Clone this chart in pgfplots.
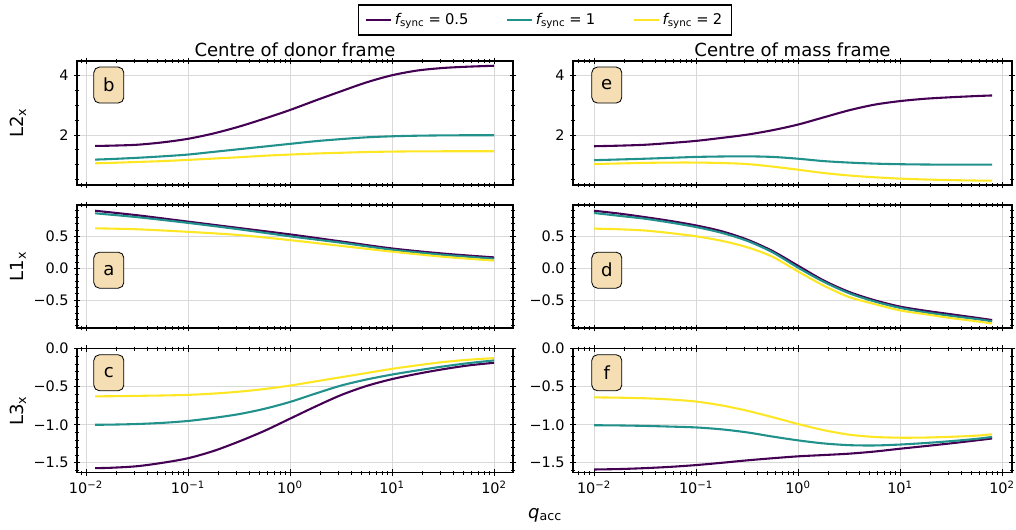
\documentclass[border=0pt]{standalone}
\usepackage{fontspec}
\setmainfont{DejaVu Sans}
\usepackage{pgfplots}
\usepackage{pgfplotstable}
\pgfplotsset{compat=1.18}
\definecolor{vpur}{HTML}{440154}
\definecolor{vteal}{HTML}{21918C}
\definecolor{vyel}{HTML}{FDE725}
\definecolor{wheat}{HTML}{F5DEB3}

% panel b : L2x donor frame
\pgfplotstableread{
x p t y
0.0123 1.63 1.17 1.045
0.01778 1.64 1.19 1.06
0.03162 1.67 1.23 1.09
0.05623 1.75 1.28 1.12
0.1 1.87 1.34 1.16
0.1778 2.05 1.43 1.205
0.3162 2.28 1.52 1.25
0.5623 2.55 1.61 1.30
1 2.84 1.70 1.34
1.778 3.16 1.79 1.375
3.162 3.47 1.86 1.40
5.623 3.77 1.92 1.425
10 4.01 1.955 1.44
17.78 4.17 1.975 1.447
31.62 4.255 1.985 1.45
56.23 4.30 1.99 1.45
100 4.33 1.99 1.45
}\tabB
% panel e : L2x centre of mass frame
\pgfplotstableread{
x p t y
0.01 1.62 1.15 1.02
0.01778 1.64 1.175 1.04
0.03162 1.67 1.20 1.06
0.05623 1.73 1.23 1.07
0.1 1.80 1.26 1.07
0.1778 1.90 1.275 1.055
0.3162 2.01 1.28 1.02
0.5623 2.16 1.26 0.935
1 2.35 1.20 0.83
1.778 2.59 1.12 0.72
3.162 2.83 1.07 0.635
5.623 3.02 1.035 0.575
10 3.14 1.015 0.53
17.78 3.22 1.005 0.50
31.62 3.27 1.00 0.48
56.23 3.31 1.00 0.465
80 3.33 1.00 0.46
}\tabE
% panel a : L1x donor frame
\pgfplotstableread{
x p t y
0.0123 0.90 0.86 0.625
0.0316 0.83 0.80 0.61
0.1 0.73 0.71 0.57
0.316 0.63 0.61 0.52
1 0.53 0.50 0.44
3.162 0.42 0.40 0.35
10 0.31 0.29 0.26
31.62 0.23 0.21 0.18
100 0.17 0.15 0.12
}\tabA
% panel d : L1x centre of mass frame
\pgfplotstableread{
x p t y
0.01 0.90 0.865 0.62
0.01778 0.855 0.82 0.61
0.03162 0.80 0.775 0.59
0.05623 0.74 0.715 0.55
0.1 0.67 0.645 0.50
0.1778 0.58 0.555 0.43
0.3162 0.45 0.43 0.33
0.5623 0.27 0.25 0.18
1 0.04 0.01 -0.05
1.778 -0.19 -0.21 -0.27
3.162 -0.37 -0.39 -0.45
5.623 -0.50 -0.52 -0.56
10 -0.60 -0.62 -0.66
17.78 -0.665 -0.69 -0.72
31.62 -0.72 -0.745 -0.78
56.23 -0.775 -0.795 -0.83
80 -0.81 -0.83 -0.865
}\tabD
% panel c : L3x donor frame
\pgfplotstableread{
x p t y
0.0123 -1.57 -1.00 -0.626
0.01778 -1.565 -0.998 -0.625
0.03162 -1.545 -0.99 -0.62
0.05623 -1.50 -0.975 -0.615
0.1 -1.44 -0.95 -0.607
0.1778 -1.345 -0.91 -0.59
0.3162 -1.22 -0.86 -0.565
0.5623 -1.08 -0.79 -0.53
1 -0.92 -0.70 -0.485
1.778 -0.76 -0.59 -0.43
3.162 -0.61 -0.485 -0.375
5.623 -0.49 -0.405 -0.32
10 -0.40 -0.34 -0.265
17.78 -0.33 -0.285 -0.218
31.62 -0.27 -0.234 -0.176
56.23 -0.22 -0.19 -0.145
100 -0.185 -0.154 -0.124
}\tabC
% panel f : L3x centre of mass frame
\pgfplotstableread{
x p t y
0.01 -1.588 -1.006 -0.64
0.01778 -1.582 -1.009 -0.644
0.03162 -1.57 -1.015 -0.652
0.05623 -1.553 -1.024 -0.668
0.1 -1.53 -1.035 -0.695
0.1778 -1.50 -1.06 -0.745
0.3162 -1.468 -1.10 -0.815
0.5623 -1.44 -1.155 -0.90
1 -1.415 -1.205 -0.99
1.778 -1.398 -1.245 -1.07
3.162 -1.38 -1.268 -1.13
5.623 -1.352 -1.272 -1.16
10 -1.315 -1.26 -1.17
17.78 -1.28 -1.24 -1.168
31.62 -1.244 -1.215 -1.158
56.23 -1.205 -1.185 -1.143
80 -1.18 -1.16 -1.125
}\tabF

\pgfplotsset{
  every axis/.append style={
    scale only axis,
    axis line style={line width=0.8pt},
    major tick style={black, line width=0.6pt},
    minor tick style={black, line width=0.5pt},
    major tick length=5pt, minor tick length=3pt, tick align=center,
    xtick={0.01,0.1,1,10,100},
    grid=major, major grid style={black!15, line width=0.6pt},
    ticklabel style={font=\fontsize{10.4}{12}\selectfont},
    every axis title shift=0pt,
    title style={font=\fontsize{13}{15}\selectfont, at={(0.5,1)}, anchor=base, yshift=3pt},
    ylabel style={font=\fontsize{13}{15}\selectfont, at={(axis description cs:-0.135,0.5)}, anchor=center},
  },
  every axis plot/.append style={line width=1.5pt, smooth},
  myleftcol/.style={width=313.92pt, xmin=0.00817, xmax=153.5,
    minor xtick={0.009,0.02,0.03,0.04,0.05,0.06,0.07,0.08,0.09,0.2,0.3,0.4,0.5,0.6,0.7,0.8,0.9,2,3,4,5,6,7,8,9,20,30,40,50,60,70,80,90}},
  myrightcol/.style={width=316.08pt, xmin=0.00622, xmax=125.3,
    minor xtick={0.007,0.008,0.009,0.02,0.03,0.04,0.05,0.06,0.07,0.08,0.09,0.2,0.3,0.4,0.5,0.6,0.7,0.8,0.9,2,3,4,5,6,7,8,9,20,30,40,50,60,70,80,90}},
  myrowone/.style={height=89.28pt, ymin=0.315, ymax=4.49, ytick={2,4}, yticklabels={2,4},
    minor ytick={0.5,1,1.5,2.5,3,3.5,4.5}, xticklabels={}},
  myrowtwo/.style={height=88.56pt, ymin=-0.935, ymax=0.99, ytick={-0.5,0,0.5}, yticklabels={−0.5,0.0,0.5},
    minor ytick={-0.9,-0.8,-0.7,-0.6,-0.4,-0.3,-0.2,-0.1,0.1,0.2,0.3,0.4,0.6,0.7,0.8,0.9}, xticklabels={}},
  myrowthree/.style={height=89.28pt, ymin=-1.63, ymax=0, ytick={-1.5,-1,-0.5,0}, yticklabels={−1.5,−1.0,−0.5,0.0},
    minor ytick={-1.6,-1.4,-1.3,-1.2,-1.1,-0.9,-0.8,-0.7,-0.6,-0.4,-0.3,-0.2,-0.1},
    xticklabels={10\textsuperscript{−2},10\textsuperscript{−1},10\textsuperscript{0},10\textsuperscript{1},10\textsuperscript{2}}},
}
\tikzset{panlab/.style={draw=black, line width=0.6pt, fill=wheat, rounded corners=4pt, minimum width=21.6pt, minimum height=25.9pt, inner sep=0pt, font=\fontsize{13}{15}\selectfont}}
\newcommand{\fs}[1]{{\itshape f}\textsubscript{sync}\hspace{0.28em}=\hspace{0.28em}#1}

\begin{document}
\begin{tikzpicture}
\useasboundingbox (0,0) rectangle (731.52pt,380.88pt);

% ---- row 1 ----
\begin{semilogxaxis}[myleftcol, myrowone, at={(55.44pt,247.68pt)}, anchor=south west,
  title={Centre of donor frame}, ylabel={L2\textsubscript{x}},
  legend style={at={(axis description cs:1.0734,1.3306)}, anchor=center, draw=black, line width=0.8pt,
    inner xsep=5pt, inner ysep=4pt,
    font=\fontsize{10.6}{12}\selectfont, /tikz/every even column/.append style={column sep=25pt}},
  legend columns=3,
  legend image code/.code={\draw[#1] (0pt,0pt) -- (14.4pt,0pt); \path (0pt,0pt) -- (18pt,0pt);}]
\addplot[vpur] table[x=x, y=p] {\tabB};
\addlegendentry{\fs{0.5}}
\addplot[vteal] table[x=x, y=t] {\tabB};
\addlegendentry{\fs{1}}
\addplot[vyel] table[x=x, y=y] {\tabB};
\addlegendentry{\fs{2}}
\node[panlab] at (rel axis cs:0.073,0.806) {b};
\end{semilogxaxis}

\begin{semilogxaxis}[myrightcol, myrowone, at={(412.56pt,247.68pt)}, anchor=south west,
  title={Centre of mass frame}]
\addplot[vpur] table[x=x, y=p] {\tabE};
\addplot[vteal] table[x=x, y=t] {\tabE};
\addplot[vyel] table[x=x, y=y] {\tabE};
\node[panlab] at (rel axis cs:0.077,0.806) {e};
\end{semilogxaxis}

% ---- row 2 ----
\begin{semilogxaxis}[myleftcol, myrowtwo, at={(55.44pt,144.72pt)}, anchor=south west,
  ylabel={L1\textsubscript{x}}]
\addplot[vpur] table[x=x, y=p] {\tabA};
\addplot[vteal] table[x=x, y=t] {\tabA};
\addplot[vyel] table[x=x, y=y] {\tabA};
\node[panlab] at (rel axis cs:0.073,0.47) {a};
\end{semilogxaxis}

\begin{semilogxaxis}[myrightcol, myrowtwo, at={(412.56pt,144.72pt)}, anchor=south west]
\addplot[vpur] table[x=x, y=p] {\tabD};
\addplot[vteal] table[x=x, y=t] {\tabD};
\addplot[vyel] table[x=x, y=y] {\tabD};
\node[panlab] at (rel axis cs:0.077,0.47) {d};
\end{semilogxaxis}

% ---- row 3 ----
\begin{semilogxaxis}[myleftcol, myrowthree, at={(55.44pt,40.54pt)}, anchor=south west,
  ylabel={L3\textsubscript{x}}]
\addplot[vpur] table[x=x, y=p] {\tabC};
\addplot[vteal] table[x=x, y=t] {\tabC};
\addplot[vyel] table[x=x, y=y] {\tabC};
\node[panlab] at (rel axis cs:0.073,0.806) {c};
\end{semilogxaxis}

\begin{semilogxaxis}[myrightcol, myrowthree, at={(412.56pt,40.54pt)}, anchor=south west]
\addplot[vpur] table[x=x, y=p] {\tabF};
\addplot[vteal] table[x=x, y=t] {\tabF};
\addplot[vyel] table[x=x, y=y] {\tabF};
\node[panlab] at (rel axis cs:0.077,0.806) {f};
\end{semilogxaxis}

\node[font=\fontsize{13}{15}\selectfont] at (392.4pt,10pt) {{\itshape q}\textsubscript{acc}};
\end{tikzpicture}
\end{document}
